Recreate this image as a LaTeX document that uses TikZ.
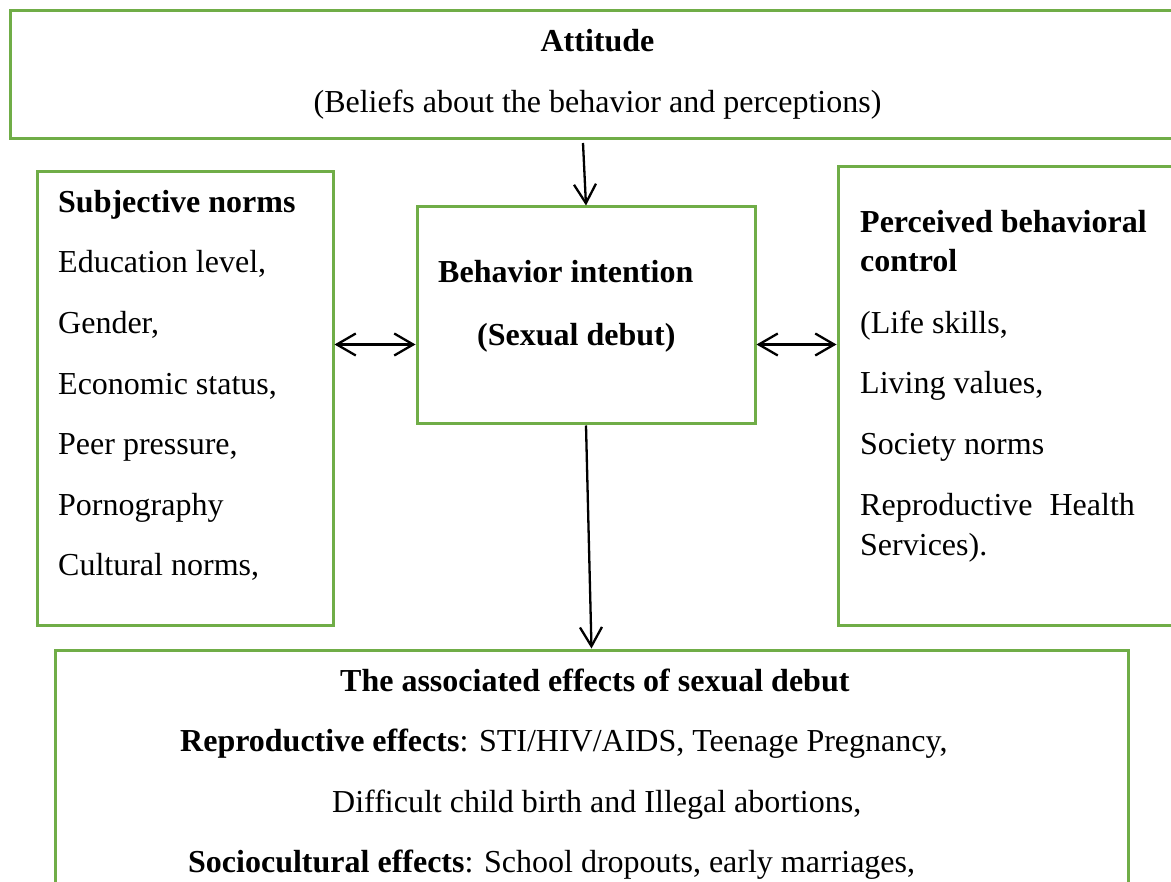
\documentclass[tikz,border=0pt]{standalone}
\usepackage{fontspec}
\setmainfont{Liberation Serif}
\usetikzlibrary{arrows.meta}
\definecolor{boxgreen}{RGB}{112,173,71}

\begin{document}
\begin{tikzpicture}[x=1pt,y=-1pt,
  >={Straight Barb[length=19pt,width=22pt]},
  box/.style={draw=boxgreen,line width=3pt,inner sep=0pt},
  txt/.style={inner sep=0pt,anchor=base west,font=\fontsize{32}{39}\selectfont},
  ctxt/.style={txt,anchor=base},
  arr/.style={line width=2.3pt}]
  \useasboundingbox (0,0) rectangle (1171,882);
  \clip (0,0) rectangle (1171,882);

  % boxes
  \node[box,minimum width=1190pt,minimum height=128pt] (attitude) at (605,75) {};
  \node[box,minimum width=296pt,minimum height=453pt] (norms) at (185,398.5) {};
  \node[box,minimum width=338pt,minimum height=217pt] (intent) at (586,315.5) {};
  \node[box,minimum width=362pt,minimum height=458pt] (control) at (1019,396) {};
  \node[box,minimum width=1073pt,minimum height=350pt] (effects) at (591.5,825) {};

  % attitude
  \node[ctxt] (atthead) at (597.5,52) {\textbf{Attitude}};
  \node[ctxt] (attline) at (597.5,113) {(Beliefs about the behavior and perceptions)};

  % subjective norms
  \node[txt] (normhead) at (58,213) {\textbf{Subjective norms}};
  \foreach \item [count=\i] in {{Education level,},{Gender,},{Economic status,},
      {Peer pressure,},{Pornography},{Cultural norms,}}
    \node[txt] (norm\i) at (58,212.4+60.6*\i) {\item};

  % behavior intention
  \node[txt] (inthead) at (438,283) {\textbf{Behavior intention}};
  \node[txt] (intline) at (477,346) {\textbf{(Sexual debut)}};

  % perceived behavioral control
  \node[txt] (ctrlhead) at (860,233) {\textbf{Perceived behavioral}};
  \node[txt] (ctrlhead2) at (860,272) {\textbf{control}};
  \node[txt] (ctrl1) at (860,334) {(Life skills,};
  \node[txt] (ctrl2) at (860,394) {Living values,};
  \node[txt] (ctrl3) at (860,455) {Society norms};
  \node[txt] (ctrl4) at (860,516) {Reproductive\hspace{9pt} Health};
  \node[txt] (ctrl5) at (860,556) {Services).};

  % effects
  \node[txt] (effhead) at (340,691) {\textbf{The associated effects of sexual debut}};
  \node[txt] (eff1) at (180,751) {\textbf{Reproductive effects}: STI/HIV/AIDS, Teenage Pregnancy,};
  \node[txt] (eff2) at (332,812) {Difficult child birth and Illegal abortions,};
  \node[txt] (eff3) at (188,872) {\textbf{Sociocultural effects}: School dropouts, early marriages,};

  % arrows
  \coordinate (attfoot) at (583,143);
  \coordinate (lvl) at (0,344.5);
  \draw[arr,->] (attfoot) -- (intent.north);
  \draw[arr,<->] (norms.east |- lvl) -- (intent.west |- lvl);
  \draw[arr,<->] (intent.east |- lvl) -- (control.west |- lvl);
  \draw[arr,->] (intent.south) -- (effects.north);
\end{tikzpicture}
\end{document}
